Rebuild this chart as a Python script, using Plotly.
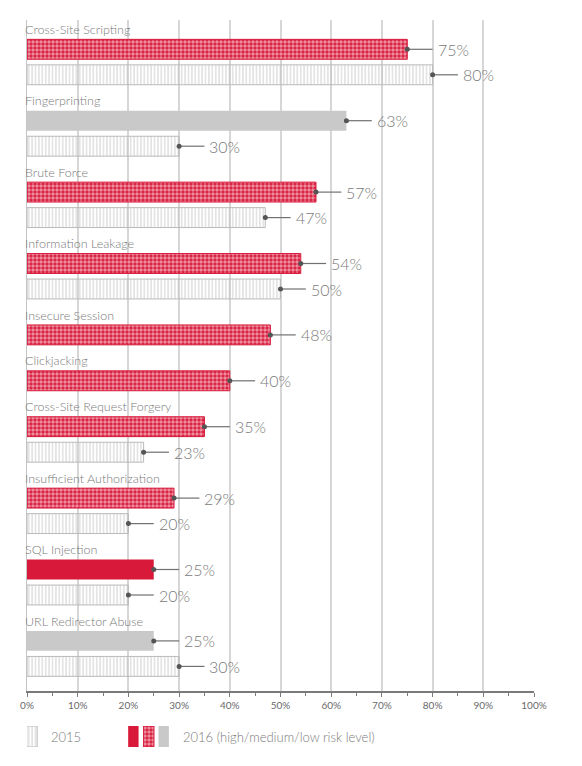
import plotly.graph_objects as go

# data
categories = ["Cross-Site Scripting", "Fingerprinting", "Brute Force", "Information Leakage",
              "Insecure Session", "Clickjacking", "Cross-Site Request Forgery",
              "Insufficient Authorization", "SQL Injection", "URL Redirector Abuse"]
values_2016 = [75, 63, 57, 54, 48, 40, 35, 29, 25, 25]
risk_2016 = ["medium", "low", "medium", "medium", "medium", "medium", "medium", "medium", "high", "low"]
values_2015 = [80, 30, 47, 50, None, None, 23, 20, 20, 30]
x_ticks = [0, 10, 20, 30, 40, 50, 60, 70, 80, 90, 100]
key_labels = ["2015", "2016 (high/medium/low risk level)"]

# page body has an 8px margin, so the figure is a bit smaller than the window
OFF = 8
W, H = 582 - OFF, 766 - OFF
L, R, T, B = 24 - OFF, 48, 20 - OFF, 18
ROW_PX = 25.5          # distance between two bars of one group
LABEL_GAP = 0.8        # extra room for the category label, in rows
BAR_W = 0.78
FIRST_BAR_PX = 49.3    # page pixels from here on
AXIS_PX = 691
LEAD = 5.0             # leader line length, in %

RED = "#d8193a"
GRAY = "#c9c9c9"
STRIPE = "#bababa"
TXT = "#7a7a7a"
FONT = "Lato"

paper_h = H - T - B
plot_w = W - L - R


def px_to_paper_y(py):
    return (H - B - (py - OFF)) / paper_h


def px_to_x(px):
    return (px - OFF - L) / plot_w * 100


# y position of every bar, group after group
y16, y15 = [], []
pos = 0.0
for v15 in values_2015:
    y16.append(pos)
    if v15 is None:
        y15.append(None)
        pos += 1 + LABEL_GAP
    else:
        y15.append(pos + 1)
        pos += 2 + LABEL_GAP

y_top = (T + OFF - FIRST_BAR_PX) / ROW_PX
y_bot = (AXIS_PX - FIRST_BAR_PX) / ROW_PX

styles = {
    "high": dict(color=RED, line=dict(width=0)),
    "medium": dict(color=RED, line=dict(color=RED, width=1),
                   pattern=dict(shape=".", fgcolor="white", bgcolor=RED, size=4, solidity=0.6)),
    "low": dict(color=GRAY, line=dict(width=0)),
}
style_2015 = dict(color=STRIPE, line=dict(color=STRIPE, width=1),
                  pattern=dict(shape="|", fgcolor=STRIPE, bgcolor="rgba(255,255,255,0)", size=3.4, solidity=0.4))

fig = go.Figure()

# 2015 bars
x15 = [v for v in values_2015 if v is not None]
yy15 = [y for y in y15 if y is not None]
fig.add_trace(go.Bar(x=x15, y=yy15, orientation="h", width=BAR_W, marker=style_2015,
                     showlegend=False, hoverinfo="skip"))

# 2016 bars, one trace per risk level
for level in ["high", "medium", "low"]:
    xs = [v for v, r in zip(values_2016, risk_2016) if r == level]
    ys = [y for y, r in zip(y16, risk_2016) if r == level]
    fig.add_trace(go.Bar(x=xs, y=ys, orientation="h", width=BAR_W, marker=styles[level],
                         showlegend=False, hoverinfo="skip"))

# leader lines with a dot at the end of every bar
all_x = values_2016 + x15
all_y = y16 + yy15
lx, ly = [], []
for v, y in zip(all_x, all_y):
    lx += [v, v + LEAD, None]
    ly += [y, y, None]
fig.add_trace(go.Scatter(x=lx, y=ly, mode="lines", line=dict(color="#707070", width=1.2),
                         showlegend=False, hoverinfo="skip"))
fig.add_trace(go.Scatter(x=all_x, y=all_y, mode="markers", marker=dict(color="#555555", size=5),
                         showlegend=False, hoverinfo="skip"))

annotations = []
for v, y in zip(all_x, all_y):
    annotations.append(dict(x=v + LEAD + 0.6, y=y, xref="x", yref="y", text=f"{v}%",
                            showarrow=False, xanchor="left", yanchor="middle",
                            font=dict(family=FONT, size=16, color=TXT, weight=300)))
for name, y in zip(categories, y16):
    annotations.append(dict(x=0, y=y - 0.78, xref="x", yref="y", text=name, xshift=-4,
                            showarrow=False, xanchor="left", yanchor="middle",
                            font=dict(family=FONT, size=12.5, color=TXT, weight=300)))

# key below the axis, drawn with the same bar styles
key_px = [29, 131, 146.5, 161.5]
key_styles = [style_2015, styles["high"], styles["medium"], styles["low"]]
for kx, st in zip(key_px, key_styles):
    fig.add_trace(go.Bar(x=[px_to_x(kx)], y=[1], base=0, width=2.05, marker=st,
                         xaxis="x2", yaxis="y2", showlegend=False, hoverinfo="skip"))
for text, tx in zip(key_labels, [46, 179]):
    annotations.append(dict(x=px_to_x(tx), y=px_to_paper_y(737), xref="x", yref="paper",
                            text=text, showarrow=False, xanchor="left", yanchor="middle",
                            font=dict(family=FONT, size=13, color=TXT, weight=300)))

fig.update_layout(
    width=W, height=H,
    margin=dict(l=L, r=R, t=T, b=B),
    plot_bgcolor="white", paper_bgcolor="white",
    barmode="overlay",
    font=dict(family=FONT, color=TXT),
    annotations=annotations,
    xaxis=dict(range=[0, 100], tickvals=x_ticks, ticktext=[f"{t}%" for t in x_ticks],
               showgrid=True, gridcolor="#d6d6d6", gridwidth=1.5, zeroline=False,
               showline=True, linecolor="#7a7a7a", linewidth=1.5,
               ticks="outside", ticklen=4, tickcolor="#7a7a7a", tickwidth=1,
               minor=dict(dtick=5, ticks="outside", ticklen=3, tickcolor="#7a7a7a", showgrid=False),
               tickfont=dict(family=FONT, size=10, color="#6a6a6a"),
               anchor="y", fixedrange=True),
    yaxis=dict(range=[y_bot, y_top], domain=[px_to_paper_y(AXIS_PX), 1],
               showgrid=False, zeroline=False, showticklabels=False,
               showline=True, linecolor="#c4c4c4", linewidth=1, fixedrange=True),
    xaxis2=dict(range=[0, 100], domain=[0, 1], visible=False, anchor="y2", fixedrange=True),
    yaxis2=dict(range=[0, 1], domain=[px_to_paper_y(747), px_to_paper_y(726)],
                visible=False, anchor="x2", fixedrange=True),
)

fig.write_html("out.html")
